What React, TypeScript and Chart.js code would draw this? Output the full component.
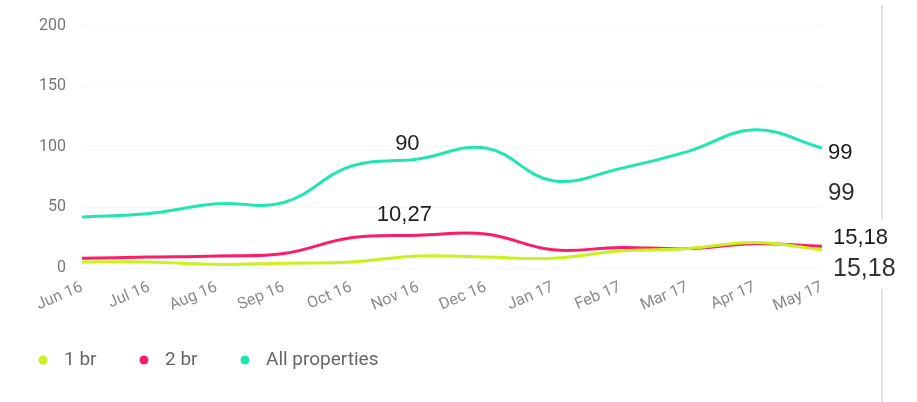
import React, { useEffect, useRef } from "react";
import { Chart, registerables } from "chart.js";

Chart.register(...registerables);

const months = ["Jun 16", "Jul 16", "Aug 16", "Sep 16", "Oct 16", "Nov 16", "Dec 16", "Jan 17", "Feb 17", "Mar 17", "Apr 17", "May 17"];
const oneBr = [5, 5, 3, 4, 5, 10, 9, 8, 14, 16, 21, 15];
const twoBr = [8, 9, 10, 12, 25, 27, 28, 15, 17, 16, 20, 18];
const allProps = [42, 45, 53, 54, 84, 90, 99, 72, 82, 96, 114, 99];
const yTicks = [0, 50, 100, 150, 200];

const seriesNames = ["1 br", "2 br", "All properties"];
const seriesColors = ["#c9f21c", "#fb1c6c", "#22e6b0"];

// annotation labels: dataset index, point index, text
const annotations = [
  { ds: 2, idx: 5, text: "90", dx: -11, dy: -15, size: 22, color: "#222", align: "center" },
  { ds: 1, idx: 5, text: "10,27", dx: -14, dy: -20, size: 22, color: "#222", align: "center" },
  { ds: 2, idx: 11, text: "99", dx: 6, dy: 5, size: 22, color: "#1a1a1a", align: "left" },
  { ds: 2, idx: 11, text: "99", dx: 6, dy: 45, size: 24, color: "#333", align: "left" },
  { ds: 1, idx: 11, text: "15,18", dx: 11, dy: -8, size: 22, color: "#1a1a1a", align: "left" },
  { ds: 0, idx: 11, text: "15,18", dx: 11, dy: 19, size: 25, color: "#333", align: "left" },
];

const extrasPlugin = {
  id: "extras",
  beforeDraw(chart: any) {
    const ctx = chart.ctx;
    ctx.save();
    ctx.fillStyle = "#ffffff";
    ctx.fillRect(0, 0, chart.width, chart.height);
    ctx.strokeStyle = "#dcdcdc";
    ctx.lineWidth = 1.5;
    ctx.beginPath();
    ctx.moveTo(882, 5);
    ctx.lineTo(882, 220);
    ctx.moveTo(882, 289);
    ctx.lineTo(882, 402);
    ctx.stroke();
    ctx.restore();
  },
  afterDraw(chart: any) {
    const ctx = chart.ctx;
    const xs = chart.scales.x;
    const ys = chart.scales.y;
    ctx.save();
    ctx.textBaseline = "middle";
    for (const a of annotations) {
      const v = chart.data.datasets[a.ds].data[a.idx];
      const px = xs.getPixelForValue(a.idx);
      const py = ys.getPixelForValue(v);
      ctx.font = `${a.size}px "Liberation Sans", Arial, sans-serif`;
      ctx.fillStyle = a.color;
      ctx.textAlign = a.align;
      ctx.fillText(a.text, px + a.dx, py + a.dy);
    }
    // legend
    const legendX = [43, 144, 245];
    const legendY = 360;
    ctx.font = `19px Roboto, sans-serif`;
    ctx.textAlign = "left";
    chart.data.datasets.forEach((d: any, i: number) => {
      ctx.beginPath();
      ctx.fillStyle = d.borderColor;
      ctx.arc(legendX[i], legendY, 4.5, 0, Math.PI * 2);
      ctx.fill();
      ctx.fillStyle = "#666";
      ctx.fillText(d.label, legendX[i] + 21, legendY);
    });
    ctx.restore();
  },
};

export default function App() {
  const ref = useRef<HTMLCanvasElement>(null);
  useEffect(() => {
    if (!ref.current) return;
    const data = [oneBr, twoBr, allProps];
    const chart = new Chart(ref.current, {
      type: "line",
      data: {
        labels: months,
        datasets: data.map((d, i) => ({
          label: seriesNames[i],
          data: d,
          borderColor: seriesColors[i],
          backgroundColor: seriesColors[i],
          borderWidth: 3,
          pointRadius: 0,
          tension: 0.4,
          fill: false,
        })),
      },
      options: {
        animation: false,
        responsive: false,
        maintainAspectRatio: false,
        layout: { padding: { top: 23, right: 95, left: 0, bottom: 74 } },
        plugins: { legend: { display: false }, tooltip: { enabled: false } },
        scales: {
          x: {
            offset: false,
            grid: { display: false, drawTicks: false },
            border: { display: false },
            ticks: {
              color: "#8a8a8a",
              font: { size: 16, family: "Roboto, sans-serif" },
              maxRotation: 23,
              minRotation: 23,
              padding: 10,
              autoSkip: false,
            },
            afterFit: (s: any) => {
              s.height = 60;
            },
          },
          y: {
            min: 0,
            max: 200,
            afterBuildTicks: (s: any) => {
              s.ticks = yTicks.map((v) => ({ value: v }));
            },
            grid: { color: "#f6f6f6", drawTicks: false },
            border: { display: false },
            ticks: {
              color: "#777",
              font: { size: 16, family: "Roboto, sans-serif" },
              padding: 16,
            },
            afterFit: (s: any) => {
              s.width = 82;
            },
          },
        },
      },
      plugins: [extrasPlugin],
    });
    return () => chart.destroy();
  }, []);
  return (
    <div style={{ position: "absolute", left: 0, top: 0, width: 917, height: 402, background: "#fff" }}>
      <canvas ref={ref} width={917} height={402} style={{ display: "block" }} />
    </div>
  );
}
